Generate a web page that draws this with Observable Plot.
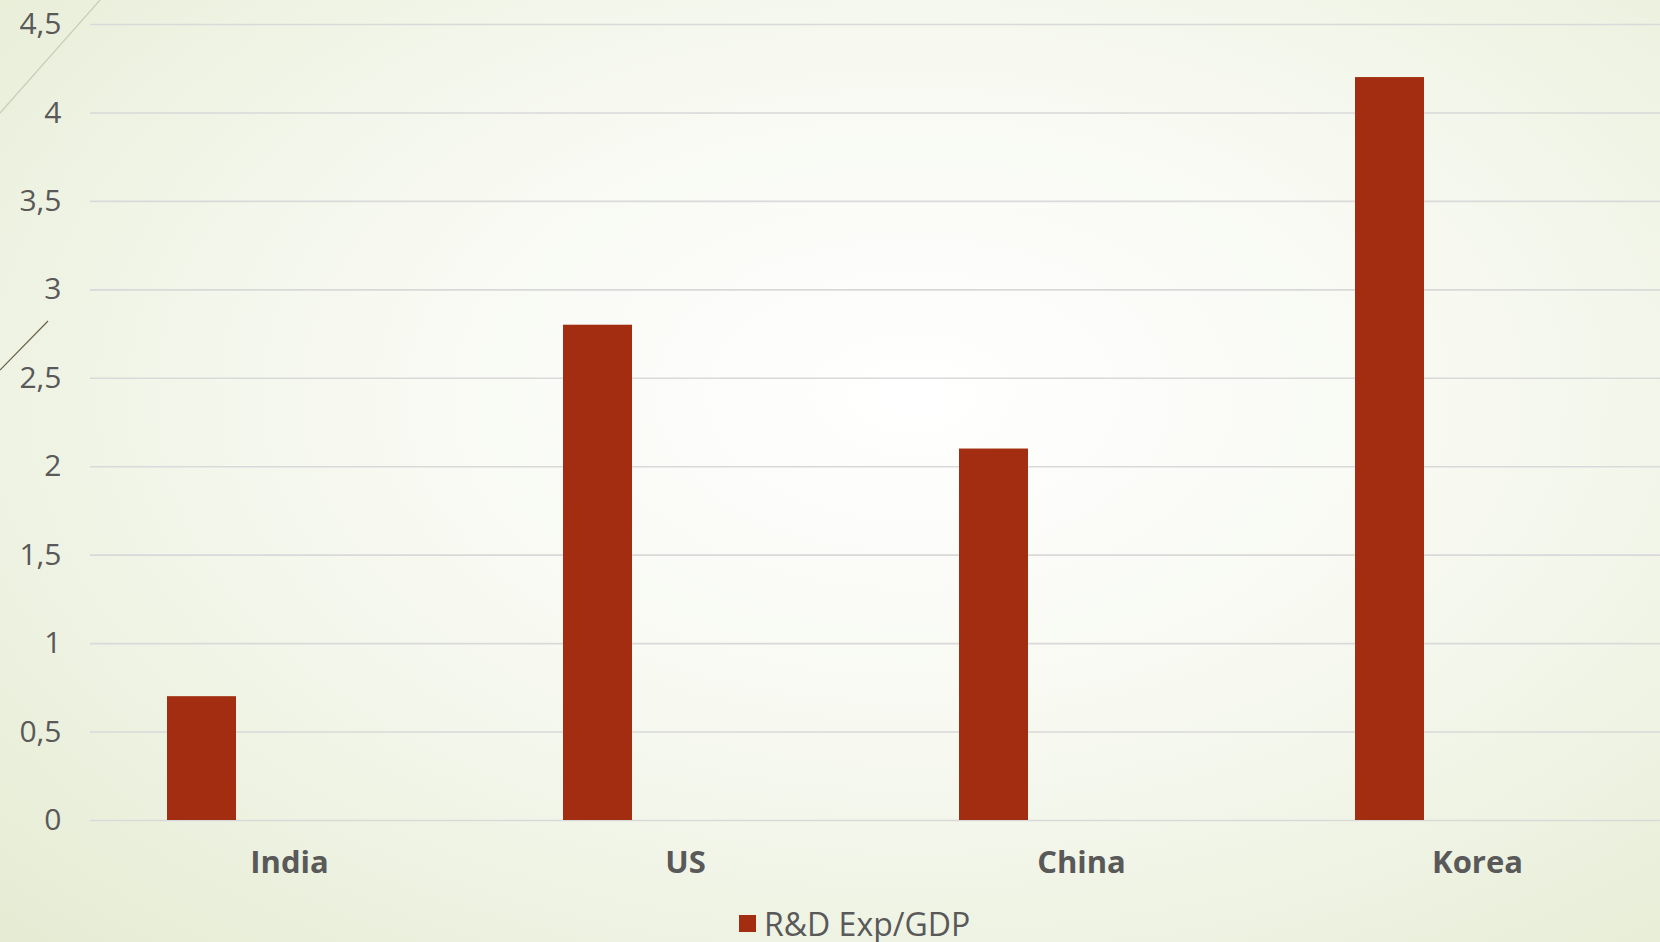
<!DOCTYPE html>
<html>
<head>
<meta charset="utf-8">
<script src="https://cdn.jsdelivr.net/npm/d3@7"></script>
<script src="https://cdn.jsdelivr.net/npm/@observablehq/plot@0.6"></script>
<style>
  html, body { margin: 0; padding: 0; width: 1660px; height: 942px; overflow: hidden; }
  body {
    background: radial-gradient(ellipse 75% 80% at 55% 42%, #ffffff 0%, #f7f9f1 45%, #ecf1df 80%, #e6ecd4 100%);
    font-family: "Open Sans", sans-serif;
    position: relative;
  }
  #deco { position: absolute; left: 0; top: 0; pointer-events: none; }
  #chart svg { display: block; background: transparent; max-width: none !important; }
  #legend { height: 66px; display: flex; align-items: center; padding-left: 739px; box-sizing: border-box;
            color: #595959; font-size: 32px; font-family: "Open Sans", sans-serif; }
  #legend .sw { width: 17px; height: 17px; background: #a22d10; margin-right: 8px; }
</style>
</head>
<body>
<svg id="deco" width="120" height="400">
  <line x1="100" y1="0" x2="0" y2="113" stroke="#c9cdb8" stroke-width="1.2"/>
  <line x1="48" y1="321" x2="0" y2="370" stroke="#6b6348" stroke-width="1.2"/>
</svg>
<div id="chart"></div>
<div id="legend"><div class="sw"></div><span>R&amp;D Exp/GDP</span></div>
<script>
const countries = ["India", "US", "China", "Korea"];
const seriesName = "R&D Exp/GDP";
const values = [0.7, 2.8, 2.1, 4.2];
const yTicks = [0, 0.5, 1, 1.5, 2, 2.5, 3, 3.5, 4, 4.5];

const data = countries.map((c, i) => ({country: c, value: values[i]}));
const fmt = d => String(d).replace(".", ",");

const chart = Plot.plot({
  width: 1676,
  height: 890,
  marginTop: 24,
  marginBottom: 70,
  marginLeft: 90,
  marginRight: 0,
  style: {background: "transparent", color: "#595959", fontFamily: "Open Sans, sans-serif", maxWidth: "none"},
  x: {domain: countries, padding: 0, label: null},
  y: {domain: [0, 4.5], label: null},
  marks: [
    Plot.gridY(yTicks, {stroke: "#d9d9d9", strokeOpacity: 1, strokeWidth: 1.6}),
    Plot.barY(data, {x: "country", y: "value", fill: "#a22d10", insetLeft: 76, insetRight: 251}),
    Plot.axisY(yTicks, {tickSize: 0, tickPadding: 29, tickFormat: fmt, fontSize: 30, fill: "#595959", label: null}),
    Plot.axisX({tickSize: 0, tickPadding: 30, fontSize: 31, fontWeight: "bold", fill: "#595959", label: null})
  ]
});
document.getElementById("chart").appendChild(chart);
</script>
</body>
</html>
